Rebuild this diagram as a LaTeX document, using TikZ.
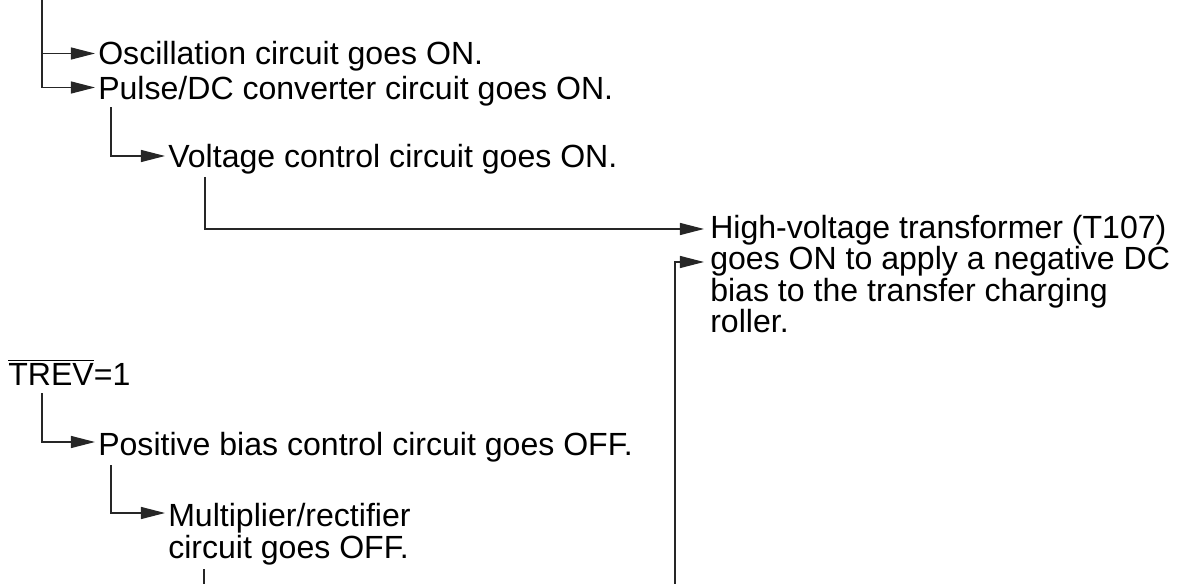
\documentclass[tikz,border=0pt]{standalone}
\usepackage{fontspec}
\setmainfont{Liberation Sans}
\usetikzlibrary{arrows.meta}
\newcommand{\ovbar}[1]{\setbox0\hbox{#1}\rlap{\rule[\dimexpr\ht0+2pt\relax]{\wd0}{0.8pt}}\box0}

\begin{document}
\begin{tikzpicture}[
    x=0.025cm, y=0.025cm,
    >={Triangle[length=0.6cm, width=0.3cm]},
    font=\fontsize{22.8pt}{22.4pt}\selectfont,
    stat/.style={inner sep=0pt, anchor=base west, align=left},
    wire/.style={draw=black!85, line width=0.8pt},
  ]
  \useasboundingbox (0,0) rectangle (1186,-584);
  % multi-line nodes sit on their last baseline
  \node[stat] (osc)   at (98,-65)    {Oscillation circuit goes ON.};
  \node[stat] (pdc)   at (98,-99.5)  {Pulse/DC converter circuit goes ON.};
  \node[stat] (vctl)  at (168,-168)  {Voltage control circuit goes ON.};
  \node[stat] (hvt)   at (710,-332.5) {High-voltage transformer (T107)\\goes ON to apply a negative DC\\bias to the transfer charging\\roller.};
  \node[stat] (trev)  at (8,-386)    {\ovbar{TREV}=1};
  \node[stat] (pbias) at (98,-455)   {Positive bias control circuit goes OFF.};
  \node[stat] (mult)  at (168,-558)  {Multiplier/rectifier\\circuit goes OFF.};
  \coordinate (top) at (42,0);
  \coordinate (bot) at (675,-584);
  \coordinate (out) at (204,-584);
  \draw[wire, ->] (top) |- ([shift={(-3,11.5)}]osc.base west);
  \draw[wire, ->] (top) |- ([shift={(-3,12)}]pdc.base west);
  \draw[wire, ->] ([shift={(13,-8)}]pdc.base west) |- ([shift={(-3,12)}]vctl.base west);
  \draw[wire, ->] ([shift={(37,-9)}]vctl.base west) |- ([shift={(-6,103.5)}]hvt.base west);
  \draw[wire, ->] (bot) |- ([shift={(-6,70.5)}]hvt.base west);
  \draw[wire, ->] ([shift={(34,-7)}]trev.base west) |- ([shift={(-3,13)}]pbias.base west);
  \draw[wire, ->] ([shift={(13,-10)}]pbias.base west) |- ([shift={(-3,45)}]mult.base west);
  \draw[wire] ([shift={(36,-11)}]mult.base west) -- (out);
\end{tikzpicture}
\end{document}
